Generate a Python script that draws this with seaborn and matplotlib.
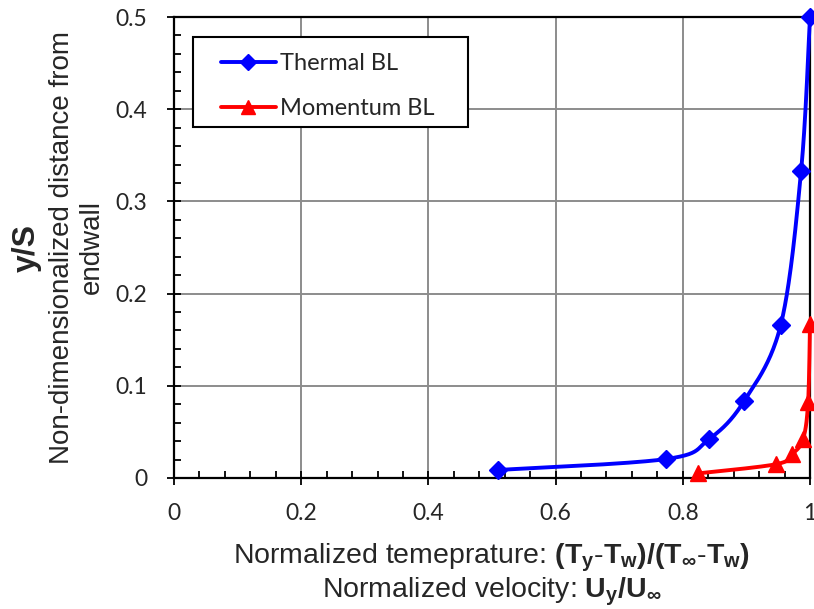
import numpy as np
import pandas as pd
import matplotlib
matplotlib.use("Agg")
import matplotlib.pyplot as plt
import seaborn as sns
from matplotlib.lines import Line2D
from matplotlib.patches import Rectangle
from matplotlib.legend_handler import HandlerLine2D
from matplotlib.ticker import MultipleLocator, FixedLocator

# ---- data ----
thermal_x = [0.510, 0.774, 0.841, 0.896, 0.954, 0.986, 1.000]
thermal_y = [0.0087, 0.0206, 0.042, 0.083, 0.166, 0.333, 0.500]
momentum_x = [0.824, 0.947, 0.972, 0.989, 0.997, 1.000]
momentum_y = [0.005, 0.015, 0.026, 0.042, 0.082, 0.167]
series_names = ["Thermal BL", "Momentum BL"]
x_ticks = [0, 0.2, 0.4, 0.6, 0.8, 1.0]
x_ticklabels = ["0", "0.2", "0.4", "0.6", "0.8", "1"]
y_ticks = [0, 0.1, 0.2, 0.3, 0.4, 0.5]
y_ticklabels = ["0", "0.1", "0.2", "0.3", "0.4", "0.5"]

sns.set_theme(style="white")
ARIAL = "Liberation Sans"
plt.rcParams["font.family"] = ["Lato", "DejaVu Sans"]
plt.rcParams["mathtext.fontset"] = "custom"
plt.rcParams["mathtext.rm"] = ARIAL
plt.rcParams["mathtext.it"] = ARIAL + ":italic"
plt.rcParams["mathtext.bf"] = ARIAL + ":bold"

W, H = 814, 609
fig = plt.figure(figsize=(W / 100, H / 100), dpi=100)
L, R, T, B = 174, 810, 17, 478
ax = fig.add_axes([L / W, 1 - B / H, (R - L) / W, (B - T) / H])
ax.set_xlim(0, 1)
ax.set_ylim(0, 0.5)

sx, sy = (R - L), (B - T) / 0.5


def smooth(xs, ys, n=40):
    P = np.column_stack([np.array(xs) * sx, np.array(ys) * sy])
    Pp = np.vstack([P[0], P, P[-1]])
    out = []
    for i in range(1, len(Pp) - 2):
        p0, p1, p2, p3 = Pp[i - 1], Pp[i], Pp[i + 1], Pp[i + 2]
        c1 = p1 + (p2 - p0) / 6
        c2 = p2 - (p3 - p1) / 6
        t = np.linspace(0, 1, n)[:, None]
        seg = (1 - t) ** 3 * p1 + 3 * (1 - t) ** 2 * t * c1 + 3 * (1 - t) * t ** 2 * c2 + t ** 3 * p2
        out.append(seg if i == 1 else seg[1:])
    S = np.vstack(out)
    return S[:, 0] / sx, S[:, 1] / sy


colors = ["#0000FF", "#FF0000"]
markers = ["D", "^"]
msizes = [9, 11]
LW = 2.8
for (xs, ys), c, m, ms in zip([(thermal_x, thermal_y), (momentum_x, momentum_y)],
                              colors, markers, msizes):
    cx, cy = smooth(xs, ys)
    df = pd.DataFrame({"x": cx, "y": cy})
    sns.lineplot(data=df, x="x", y="y", sort=False, estimator=None, color=c,
                 linewidth=LW, ax=ax, clip_on=False, zorder=5)
    ax.plot(xs, ys, linestyle="none", marker=m, markersize=ms, color=c,
            clip_on=False, zorder=6)

ax.set_xlabel("")
ax.set_ylabel("")
ax.xaxis.set_major_locator(FixedLocator(x_ticks))
ax.yaxis.set_major_locator(FixedLocator(y_ticks))
ax.set_xticklabels(x_ticklabels)
ax.set_yticklabels(y_ticklabels)
ax.xaxis.set_minor_locator(MultipleLocator(0.04))
ax.yaxis.set_minor_locator(MultipleLocator(0.02))
ax.tick_params(which="major", direction="inout", length=10, width=1.3, color="black",
               labelsize=16.5, bottom=True, left=True)
ax.tick_params(axis="y", which="major", pad=14)
ax.tick_params(axis="x", which="major", pad=13)
ax.tick_params(which="minor", direction="in", length=5, width=1.3, color="black",
               bottom=True, left=True)
ax.grid(True, which="major", color="#8C8C8C", linewidth=1.4)
ax.set_axisbelow(True)
for s in ax.spines.values():
    s.set_visible(True)
    s.set_color("black")
    s.set_linewidth(1.6)


class ShiftedLine(HandlerLine2D):
    off = 10.8

    def create_artists(self, legend, orig_handle, xdescent, ydescent, width, height,
                       fontsize, trans):
        return super().create_artists(legend, orig_handle, xdescent - self.off, ydescent,
                                      width - self.off, height, fontsize, trans)


frame = Rectangle((193 / W, 1 - 127 / H), 275 / W, 90 / H, transform=fig.transFigure,
                  facecolor="white", edgecolor="black", linewidth=1.5, zorder=9,
                  clip_on=False)
ax.add_artist(frame)

handles = [Line2D([], [], color=c, marker=m, markersize=ms - 1, linewidth=LW)
           for c, m, ms in zip(colors, markers, msizes)]
leg = ax.legend(handles, series_names, loc="upper left",
                bbox_to_anchor=(206 / W, 1 - 53 / H), bbox_transform=fig.transFigure,
                fontsize=17, frameon=False, handlelength=2.96, labelspacing=1.02,
                borderpad=0, handletextpad=0.17, borderaxespad=0,
                handler_map={Line2D: ShiftedLine()})
leg.set_zorder(10)

xc = (L + R) / 2 / W
FS = 20.5
fig.text(xc, 1 - 564 / H,
         r"Normalized temeprature: $\mathbf{(T_y\text{-}T_w)/(T_\infty\text{-}T_w)}$",
         ha="center", va="baseline", fontsize=FS, family=ARIAL)
fig.text(xc, 1 - 597 / H, r"Normalized velocity: $\mathbf{U_y/U_\infty}$",
         ha="center", va="baseline", fontsize=FS, family=ARIAL)

yc = 1 - (T + B) / 2 / H
fig.text(27 / W, yc, "y/S", rotation=90, ha="center", va="center", fontsize=23,
         family=ARIAL, fontweight="bold")
fig.text(62 / W, yc, "Non-dimensionalized distance from", rotation=90, ha="center",
         va="center", fontsize=20, family=ARIAL)
fig.text(92 / W, yc, "endwall", rotation=90, ha="center", va="center", fontsize=20,
         family=ARIAL)

fig.savefig("out.png", dpi=100)
